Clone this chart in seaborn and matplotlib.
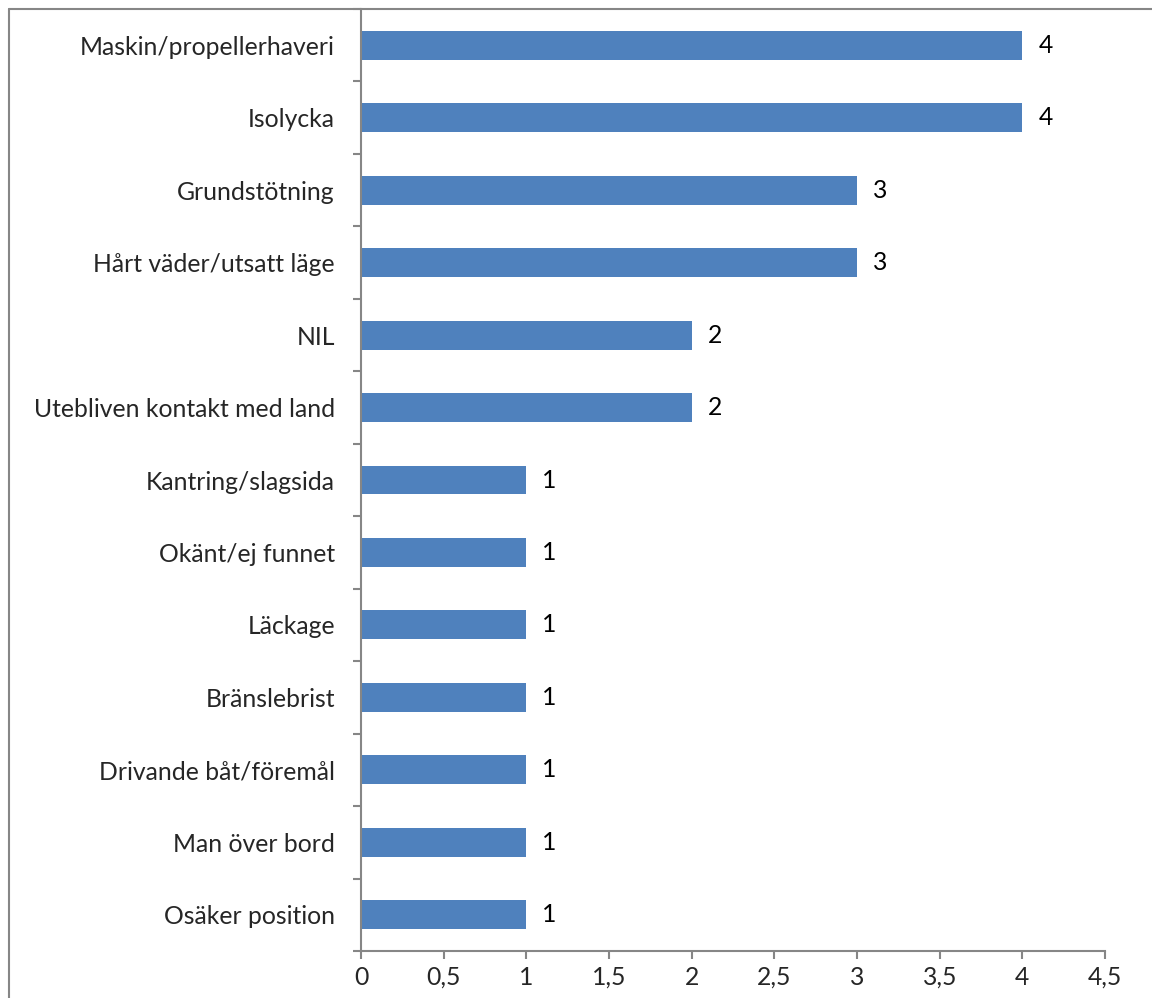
import matplotlib
matplotlib.use("Agg")
import matplotlib.pyplot as plt
import seaborn as sns
import pandas as pd
import numpy as np
from matplotlib.ticker import FixedLocator, FuncFormatter
from matplotlib.lines import Line2D

categories = [
    "Maskin/propellerhaveri",
    "Isolycka",
    "Grundstötning",
    "Hårt väder/utsatt läge",
    "NIL",
    "Utebliven kontakt med land",
    "Kantring/slagsida",
    "Okänt/ej funnet",
    "Läckage",
    "Bränslebrist",
    "Drivande båt/föremål",
    "Man över bord",
    "Osäker position",
]
counts = [4, 4, 3, 3, 2, 2, 1, 1, 1, 1, 1, 1, 1]
x_ticks = [0, 0.5, 1, 1.5, 2, 2.5, 3, 3.5, 4, 4.5]

df = pd.DataFrame({"orsak": categories, "antal": counts})

sns.set_theme(style="white")
plt.rcParams["font.family"] = ["Lato", "DejaVu Sans"]

bar_color = "#4F81BD"
axis_color = "#868686"
font_size = 17.8
PX = 72 / 100  # points per pixel at 100 dpi

fig = plt.figure(figsize=(11.52, 9.98), dpi=100)
ax = fig.add_axes([361 / 1152, 47 / 998, 744 / 1152, 942 / 998])

sns.barplot(data=df, y="orsak", x="antal", orient="h", color=bar_color,
            width=0.4, saturation=1, linewidth=0, ax=ax)

# value labels to the right of each bar
for i, v in enumerate(counts):
    ax.annotate(f"{v}", xy=(v, i), xytext=(16 * PX, 0), textcoords="offset points",
                va="center", ha="left", fontsize=font_size, color="black")

ax.set_xlim(0, 4.5)
ax.set_ylim(len(categories) - 0.5, -0.5)
ax.set_xlabel("")
ax.set_ylabel("")

ax.xaxis.set_major_locator(FixedLocator(x_ticks))
ax.xaxis.set_major_formatter(FuncFormatter(lambda v, p: f"{v:g}".replace(".", ",")))
ax.tick_params(axis="x", direction="out", length=8 * PX, width=1.5, color=axis_color,
               labelsize=font_size, pad=5, bottom=True)

# category boundaries get the tick marks; labels sit centred on bars
ax.tick_params(axis="y", which="major", length=0, pad=26 * PX, labelsize=font_size)
ax.yaxis.set_minor_locator(FixedLocator(np.arange(-0.5, len(categories), 1.0)))
ax.tick_params(axis="y", which="minor", direction="out", length=8 * PX, width=1.5,
               color=axis_color, left=True)

for side in ["top", "right"]:
    ax.spines[side].set_visible(False)
for side in ["left", "bottom"]:
    ax.spines[side].set_color(axis_color)
    ax.spines[side].set_linewidth(1.5)

# chart frame
fig.add_artist(Line2D([8.5 / 1152, 8.5 / 1152], [0, 1 - 9 / 998],
                      transform=fig.transFigure, color=axis_color, lw=1.5))
fig.add_artist(Line2D([8.5 / 1152, 1], [1 - 9 / 998, 1 - 9 / 998],
                      transform=fig.transFigure, color=axis_color, lw=1.5))

fig.savefig("out.png", dpi=100)
